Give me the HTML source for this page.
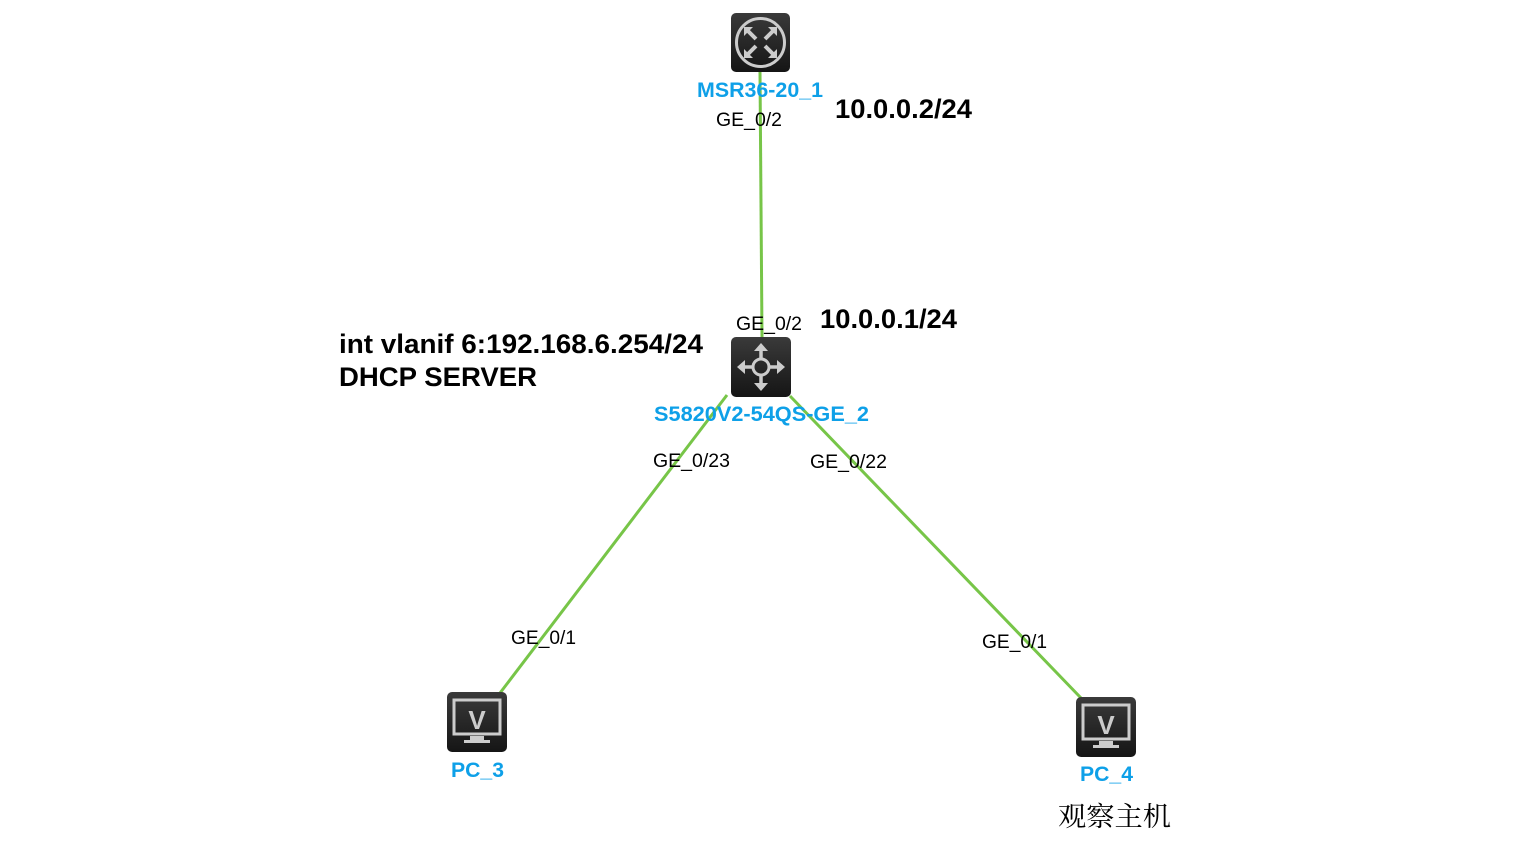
<!DOCTYPE html>
<html><head><meta charset="utf-8"><style>
html,body{margin:0;padding:0;background:#fff;}
svg{display:block;}
</style></head><body>
<svg width="1523" height="862" xmlns="http://www.w3.org/2000/svg" font-family="Liberation Sans, Arial, sans-serif">
<defs>
<linearGradient id="g" x1="0" y1="0" x2="0" y2="1"><stop offset="0" stop-color="#3a3a3a"/><stop offset="1" stop-color="#151515"/></linearGradient>
</defs>
<g stroke="#77c548" stroke-width="3">
<line x1="760" y1="72" x2="762" y2="337"/>
<line x1="727" y1="395" x2="500" y2="693"/>
<line x1="790" y1="396" x2="1081" y2="698"/>
</g>
<!-- router -->
<rect x="731" y="13" width="59" height="59" rx="5" fill="url(#g)"/>
<circle cx="760.5" cy="42.5" r="24" fill="none" stroke="#ccc" stroke-width="3"/>
<g stroke="#ccc" stroke-width="4" fill="none">
<path d="M746 29 L756 39 M775 29 L765 39 M746 56 L756 46 M775 56 L765 46"/>
</g>
<g fill="#ccc"><path d="M744 27h9l-9 9z M777 27h-9l9 9z M744 58h9l-9-9z M777 58h-9l9-9z"/></g>
<!-- switch -->
<rect x="731" y="337" width="60" height="60" rx="5" fill="url(#g)"/>
<circle cx="761" cy="367" r="8" fill="none" stroke="#ccc" stroke-width="3"/>
<g stroke="#ccc" stroke-width="3.5"><line x1="761" y1="347" x2="761" y2="359"/><line x1="761" y1="375" x2="761" y2="387"/><line x1="741" y1="367" x2="753" y2="367"/><line x1="769" y1="367" x2="781" y2="367"/></g>
<g fill="#ccc"><path d="M761 343l-7 8h14z M761 391l-7-8h14z M737 367l8-7v14z M785 367l-8-7v14z"/></g>
<!-- PCs -->
<g id="pc">
<rect x="447" y="692" width="60" height="60" rx="5" fill="url(#g)"/>
<rect x="454" y="700" width="46" height="34" fill="none" stroke="#ccc" stroke-width="3"/>
<text x="477" y="729" font-size="26" font-weight="bold" fill="#ccc" text-anchor="middle">V</text>
<path d="M470 736h14v4h6v3h-26v-3h6z" fill="#ccc"/>
</g>
<use href="#pc" transform="translate(629,5)"/>
<!-- labels -->
<g font-weight="bold" fill="#0ea0e8" font-size="21" lengthAdjust="spacingAndGlyphs">
<text x="697" y="97" textLength="126" lengthAdjust="spacingAndGlyphs">MSR36-20_1</text>
<text x="654" y="421" textLength="215" lengthAdjust="spacingAndGlyphs">S5820V2-54QS-GE_2</text>
<text x="451" y="777" textLength="53" lengthAdjust="spacingAndGlyphs">PC_3</text>
<text x="1080" y="781" textLength="53" lengthAdjust="spacingAndGlyphs">PC_4</text>
</g>
<g font-size="19" fill="#000">
<text x="716" y="126" textLength="66" lengthAdjust="spacingAndGlyphs">GE_0/2</text>
<text x="736" y="330" textLength="66" lengthAdjust="spacingAndGlyphs">GE_0/2</text>
<text x="653" y="467" textLength="77" lengthAdjust="spacingAndGlyphs">GE_0/23</text>
<text x="810" y="468" textLength="77" lengthAdjust="spacingAndGlyphs">GE_0/22</text>
<text x="511" y="644" textLength="65" lengthAdjust="spacingAndGlyphs">GE_0/1</text>
<text x="982" y="648" textLength="65" lengthAdjust="spacingAndGlyphs">GE_0/1</text>
</g>
<g font-size="27" font-weight="bold" fill="#000">
<text x="835" y="118" textLength="137" lengthAdjust="spacingAndGlyphs">10.0.0.2/24</text>
<text x="820" y="328" textLength="137" lengthAdjust="spacingAndGlyphs">10.0.0.1/24</text>
<text x="339" y="353" textLength="364" lengthAdjust="spacingAndGlyphs">int vlanif 6:192.168.6.254/24</text>
<text x="339" y="386" textLength="198" lengthAdjust="spacingAndGlyphs">DHCP SERVER</text>
</g>
<text x="1058" y="826" font-size="27" font-family="Noto Serif CJK SC, serif" fill="#000" textLength="113" lengthAdjust="spacingAndGlyphs">观察主机</text>
</svg>
</body></html>
